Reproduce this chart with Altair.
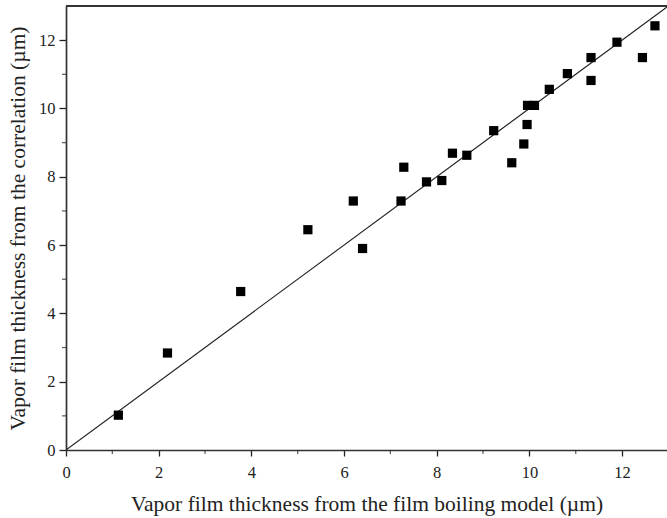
import altair as alt
import pandas as pd

# measured points (film boiling model vs correlation), in µm
model_um = [1.13, 2.19, 3.77, 5.22, 6.20, 6.40, 7.23, 7.29, 7.78, 8.11, 8.34, 8.65,
            9.23, 9.62, 9.88, 9.95, 9.96, 10.11, 10.43, 10.82, 11.33, 11.33, 11.89,
            12.44, 12.71]
corr_um = [1.02, 2.84, 4.64, 6.45, 7.29, 5.90, 7.29, 8.28, 7.85, 7.89, 8.69, 8.63,
           9.35, 8.41, 8.96, 9.53, 10.09, 10.09, 10.56, 11.02, 11.49, 10.82, 11.94,
           11.49, 12.42]

# y = x reference line
line_x = [0, 12.97]
line_y = [0, 12.97]

major_ticks = [0, 2, 4, 6, 8, 10, 12]
minor_ticks = [1, 3, 5, 7, 9, 11]

X_MAX = 12.97
Y_MAX = 13.0
W, H = 601, 444
FONT = "Liberation Serif"

pts = pd.DataFrame({"x": model_um, "y": corr_um})
ln = pd.DataFrame({"x": line_x, "y": line_y})
minor = pd.DataFrame({"v": minor_ticks})

xs = alt.Scale(domain=[0, X_MAX], nice=False, zero=False)
ys = alt.Scale(domain=[0, Y_MAX], nice=False, zero=False)

x_axis = alt.Axis(values=major_ticks, format="d", ticks=True, tickSize=6, tickWidth=1.3,
                  tickColor="#222", domainColor="#333", domainWidth=1.7, labelFont=FONT,
                  labelFontSize=16.5, labelColor="#222", labelPadding=8, labelFlush=False,
                  grid=False,
                  title="Vapor film thickness from the film boiling model (µm)",
                  titleFont=FONT, titleFontSize=21.5, titleFontWeight="normal",
                  titleColor="#222", titlePadding=13)
y_axis = alt.Axis(values=major_ticks, format="d", ticks=True, tickSize=7, tickWidth=1.3,
                  tickColor="#222", domainColor="#333", domainWidth=1.7, labelFont=FONT,
                  labelFontSize=16.5, labelColor="#222", labelPadding=4, labelFlush=False,
                  grid=False,
                  title="Vapor film thickness from the correlation (µm)",
                  titleFont=FONT, titleFontSize=21.5, titleFontWeight="normal",
                  titleColor="#222", titlePadding=9)

line = alt.Chart(ln).mark_line(color="#222", strokeWidth=1.1, clip=True).encode(
    x=alt.X("x:Q", scale=xs, axis=x_axis),
    y=alt.Y("y:Q", scale=ys, axis=y_axis),
)

points = alt.Chart(pts).mark_square(color="black", size=85, opacity=1).encode(
    x=alt.X("x:Q", scale=xs),
    y=alt.Y("y:Q", scale=ys),
)

x_minor = alt.Chart(minor).mark_tick(color="#222", thickness=1.3, size=4).encode(
    x=alt.X("v:Q", scale=xs),
    y=alt.value(H + 2),
)
y_minor = alt.Chart(minor).mark_tick(color="#222", thickness=1.3, size=4).encode(
    y=alt.Y("v:Q", scale=ys),
    x=alt.value(-2),
)

top_border = alt.Chart(minor).mark_rule(color="#333", strokeWidth=1.8).encode(
    x=alt.value(0), x2=alt.value(W), y=alt.value(0)
)

chart = alt.layer(line, points, x_minor, y_minor, top_border).properties(
    width=W, height=H,
    autosize=alt.AutoSizeParams(type="none"),
    padding={"left": 66, "top": 6, "right": 0, "bottom": 68},
).configure_view(stroke=None).configure(background="white")

chart.save("out.html", embed_options={"renderer": "svg", "actions": False})
